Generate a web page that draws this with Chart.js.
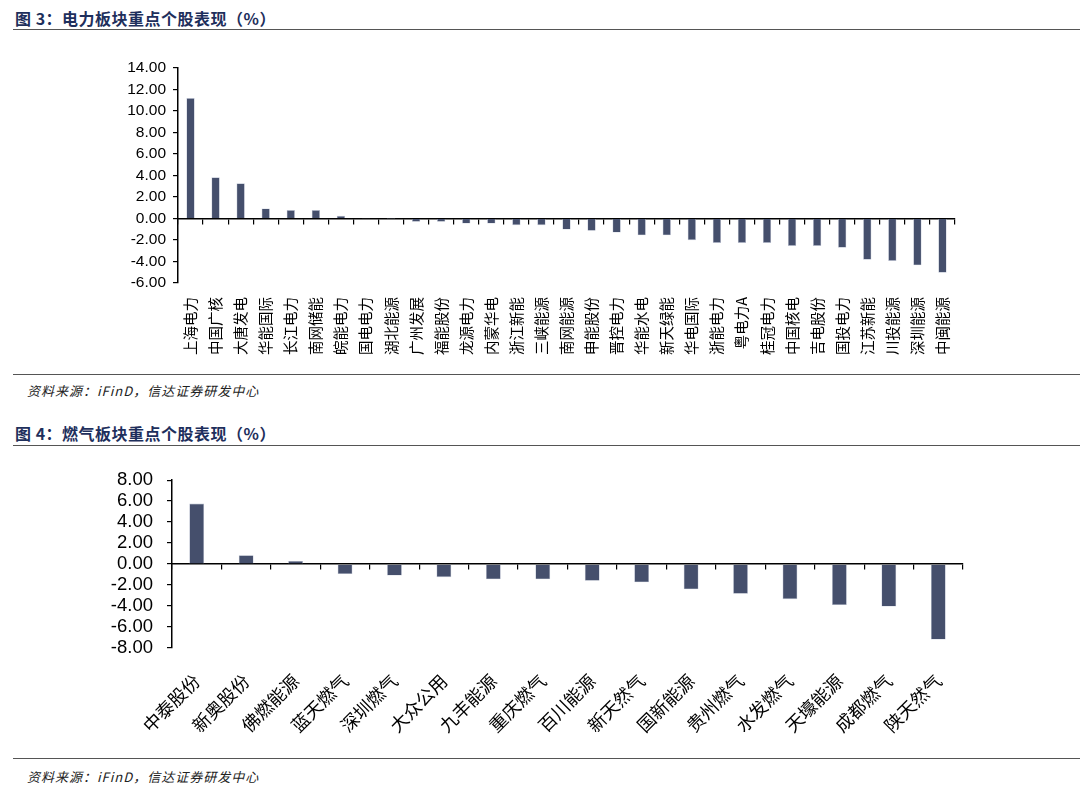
<!DOCTYPE html>
<html>
<head>
<meta charset="utf-8">
<script src="https://cdn.jsdelivr.net/npm/chart.js@4.4.1/dist/chart.umd.min.js"></script>
<style>
  html, body { margin: 0; padding: 0; background: #fff; }
  body { width: 1080px; height: 792px; position: relative; overflow: hidden; font-family: "Noto Sans CJK SC", sans-serif; }
  .title { position: absolute; left: 15px; font-size: 16px; font-weight: bold; color: #1e2f5c; line-height: 20px; white-space: nowrap; letter-spacing: 0.5px; }
  .rule { position: absolute; left: 13px; right: 0; height: 0; border-top: 1.5px solid #555; }
  .src { position: absolute; left: 27px; font-size: 13px; font-style: italic; color: #222; line-height: 18px; white-space: nowrap; letter-spacing: 1px; }
  canvas { position: absolute; left: 0; }
</style>
</head>
<body>
<div class="title" style="top:8px">图 3：电力板块重点个股表现（%）</div>
<div class="rule" style="top:29px"></div>
<canvas id="c1" width="1080" height="330" style="top:40px;width:1080px;height:330px"></canvas>
<div class="rule" style="top:374px"></div>
<div class="src" style="top:382px">资料来源：iFinD，信达证券研发中心</div>

<div class="title" style="top:423px">图 4：燃气板块重点个股表现（%）</div>
<div class="rule" style="top:445px"></div>
<canvas id="c2" width="1080" height="300" style="top:455px;width:1080px;height:300px"></canvas>
<div class="rule" style="top:758px"></div>
<div class="src" style="top:768px">资料来源：iFinD，信达证券研发中心</div>

<script>
// 图3 电力板块
const powerNames = ["上海电力", "中国广核", "大唐发电", "华能国际", "长江电力", "南网储能", "皖能电力", "国电电力",
  "湖北能源", "广州发展", "福能股份", "龙源电力", "内蒙华电", "浙江新能", "三峡能源", "南网能源", "申能股份",
  "晋控电力", "华能水电", "新天绿能", "华电国际", "浙能电力", "粤电力A", "桂冠电力", "中国核电", "吉电股份",
  "国投电力", "江苏新能", "川投能源", "深圳能源", "中闽能源"];
const powerValues = [11.20, 3.83, 3.27, 0.93, 0.78, 0.78, 0.25, 0.02, 0.01, -0.31, -0.31, -0.47, -0.47, -0.62, -0.62,
  -1.03, -1.15, -1.31, -1.56, -1.56, -2.02, -2.27, -2.27, -2.27, -2.55, -2.55, -2.71, -3.83, -3.95, -4.36, -5.04];
const powerTicks = { min: -6, max: 14, step: 2 };

// 图4 燃气板块
const gasNames = ["中泰股份", "新奥股份", "佛燃能源", "蓝天燃气", "深圳燃气", "大众公用", "九丰能源", "重庆燃气",
  "百川能源", "新天然气", "国新能源", "贵州燃气", "水发燃气", "天壕能源", "成都燃气", "陕天然气"];
const gasValues = [5.76, 0.85, 0.30, -0.95, -1.10, -1.25, -1.46, -1.46, -1.59, -1.74, -2.41, -2.84, -3.35, -3.90, -4.05, -7.20];
const gasTicks = { min: -8, max: 8, step: 2 };

const barColor = "#454f6c";

function makeChart(id, labels, values, range, opt) {
  const ctx = document.getElementById(id).getContext("2d");
  return new Chart(ctx, {
    type: "bar",
    data: {
      labels,
      datasets: [{
        data: values,
        backgroundColor: barColor,
        borderColor: "#b9bfd0",
        borderWidth: 0.6,
        borderSkipped: "start",
        categoryPercentage: 1,
        barPercentage: opt.barPct
      }]
    },
    options: {
      responsive: false,
      animation: false,
      events: [],
      layout: { padding: opt.padding },
      plugins: { legend: { display: false }, tooltip: { enabled: false }, title: { display: false } },
      scales: {
        x: {
          position: "bottom",
          offset: true,
          grid: { display: false },
          border: { display: false },
          afterFit: s => { s.height = opt.xHeight; },
          ticks: {
            autoSkip: false,
            minRotation: opt.rot,
            maxRotation: opt.rot,
            padding: opt.xPad,
            color: "#000",
            font: { family: "'Noto Sans CJK SC'", size: opt.xFont }
          }
        },
        // 零轴及其刻度线
        x0: {
          type: "category",
          position: { y: 0 },
          offset: true,
          grid: { offset: true, drawOnChartArea: false, drawTicks: true, tickLength: 5, color: "#000", lineWidth: 1.2 },
          border: { display: true, color: "#000", width: 1.5 },
          ticks: { display: false }
        },
        y: {
          min: range.min,
          max: range.max,
          afterFit: s => { s.width = opt.yWidth; },
          afterBuildTicks: s => {
            const t = [];
            for (let v = range.min; v <= range.max; v += range.step) t.push({ value: v });
            s.ticks = t;
          },
          grid: { drawOnChartArea: false, drawTicks: true, tickLength: 5, color: "#000", lineWidth: 1.2 },
          border: { display: true, color: "#000", width: 1.5 },
          ticks: {
            autoSkip: false,
            padding: opt.yPad,
            color: "#000",
            font: { family: "'Liberation Sans', Arial", size: opt.yFont },
            callback: v => Number(v).toFixed(2)
          }
        }
      }
    }
  });
}

makeChart("c1", powerNames, powerValues, powerTicks, {
  barPct: 0.33, rot: 90, xPad: 6, xFont: 14.5, yFont: 15.5, yPad: 7,
  xHeight: 87, yWidth: 178,
  padding: { left: 0, right: 125, top: 28, bottom: 0 }
});

makeChart("c2", gasNames, gasValues, gasTicks, {
  barPct: 0.3, rot: 45, xPad: 14, xFont: 18, yFont: 18.5, yPad: 14,
  xHeight: 107, yWidth: 172,
  padding: { left: 0, right: 117, top: 18, bottom: 0 }
});
</script>
</body>
</html>
